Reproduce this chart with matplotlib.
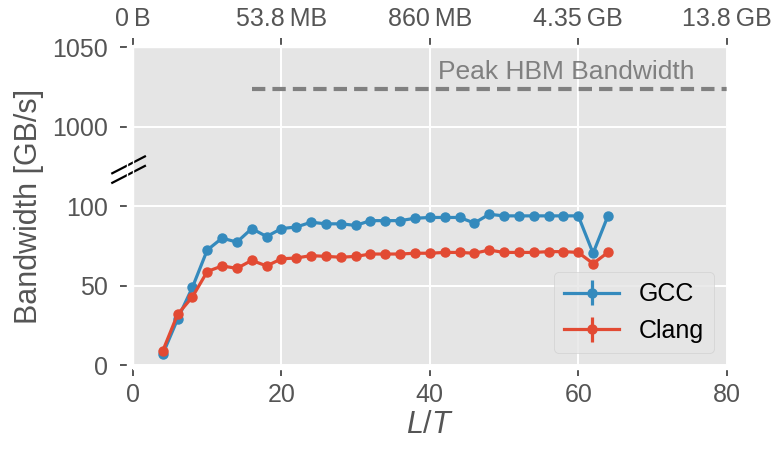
import numpy as np
import matplotlib
matplotlib.use("Agg")
import matplotlib.pyplot as plt

plt.style.use('ggplot')
plt.rcParams['font.family'] = ['Liberation Sans', 'DejaVu Sans']
plt.rcParams['mathtext.fontset'] = 'custom'
plt.rcParams['mathtext.it'] = 'Liberation Sans:italic'
plt.rcParams['mathtext.rm'] = 'Liberation Sans'

L_over_T = [4, 6, 8, 10, 12, 14, 16, 18, 20, 22, 24, 26, 28, 30, 32, 34,
            36, 38, 40, 42, 44, 46, 48, 50, 52, 54, 56, 58, 60, 62, 64]
gcc = [7, 29, 49, 72.5, 80, 77.5, 86, 81, 86, 87, 90, 89, 89, 88, 91, 91,
       91, 92.5, 93, 93, 93, 89.5, 95, 94, 94, 94, 94, 94, 94, 70.5, 94]
clang = [9, 32, 43, 59, 62.5, 61, 66, 62.5, 67, 67.5, 69, 68.5, 68, 68.5, 70, 70,
         70, 70.5, 70.5, 71, 71, 70.5, 72.5, 71, 71, 71, 71.5, 71.5, 71, 64, 71]
gcc_err = 0
clang_err = 0

peak_bw = 1024
x_ticks = [0, 20, 40, 60, 80]
top_labels = ['0\u2009B', '53.8\u2009MB', '860\u2009MB', '4.35\u2009GB', '13.8\u2009GB']
y_ticks = [0, 50, 100, 1000, 1050]

LOW, HIGH = 125, 975


def fwd(y):
    y = np.asarray(y, dtype=float)
    return np.where(y <= LOW, y, np.where(y >= HIGH, y - (HIGH - LOW), LOW))


def inv(v):
    v = np.asarray(v, dtype=float)
    return np.where(v <= LOW, v, v + (HIGH - LOW))


fig = plt.figure(figsize=(7.78, 4.51), dpi=100)
ax = fig.add_axes([0.171, 0.19, 0.763, 0.705])
ax.set_yscale('function', functions=(fwd, inv))
ax.grid(color='white', lw=1.4)

ax.errorbar(L_over_T, gcc, yerr=gcc_err, color='#348ABD', marker='o',
            markersize=6.5, lw=2.3, label='GCC')
ax.errorbar(L_over_T, clang, yerr=clang_err, color='#E24A33', marker='o',
            markersize=6.5, lw=2.3, label='Clang')

ax.plot([16, 80], [peak_bw, peak_bw], color='gray', lw=3, dashes=(3.2, 1.7))
ax.text(58.4, 1030, 'Peak HBM Bandwidth', color='gray', fontsize=19,
        ha='center', va='baseline')

ax.set_xlim(0, 80)
ax.set_ylim(0, 1050)
ax.set_xticks(x_ticks)
ax.set_yticks(y_ticks)
ax.tick_params(labelsize=18, length=5, width=1.4, color='#555555')
ax.tick_params(axis='y', pad=9)
ax.tick_params(axis='x', pad=5)
ax.spines['left'].set_position(('outward', 4))
ax.spines['bottom'].set_position(('outward', 3))

top = ax.twiny()
top.set_xlim(0, 80)
top.set_xticks(x_ticks)
top.set_xticklabels(top_labels)
top.grid(False)
top.set_facecolor('none')
top.tick_params(labelsize=18, length=5, width=1.4, color='#555555', pad=5)
top.spines['top'].set_position(('outward', 2))

ax.set_xlabel('$L/T$', fontsize=22, labelpad=2)
ax.set_ylabel('Bandwidth [GB/s]', fontsize=22, labelpad=6)

# break marks on the y axis
for dy in (0.0, 0.03):
    ax.plot([-0.035, 0.02], [0.574 + dy, 0.627 + dy], color='black', lw=1.6,
            transform=ax.transAxes, clip_on=False)

ax.legend(loc='lower right', fontsize=18, handlelength=2.2)

fig.savefig('out.png', dpi=100)
